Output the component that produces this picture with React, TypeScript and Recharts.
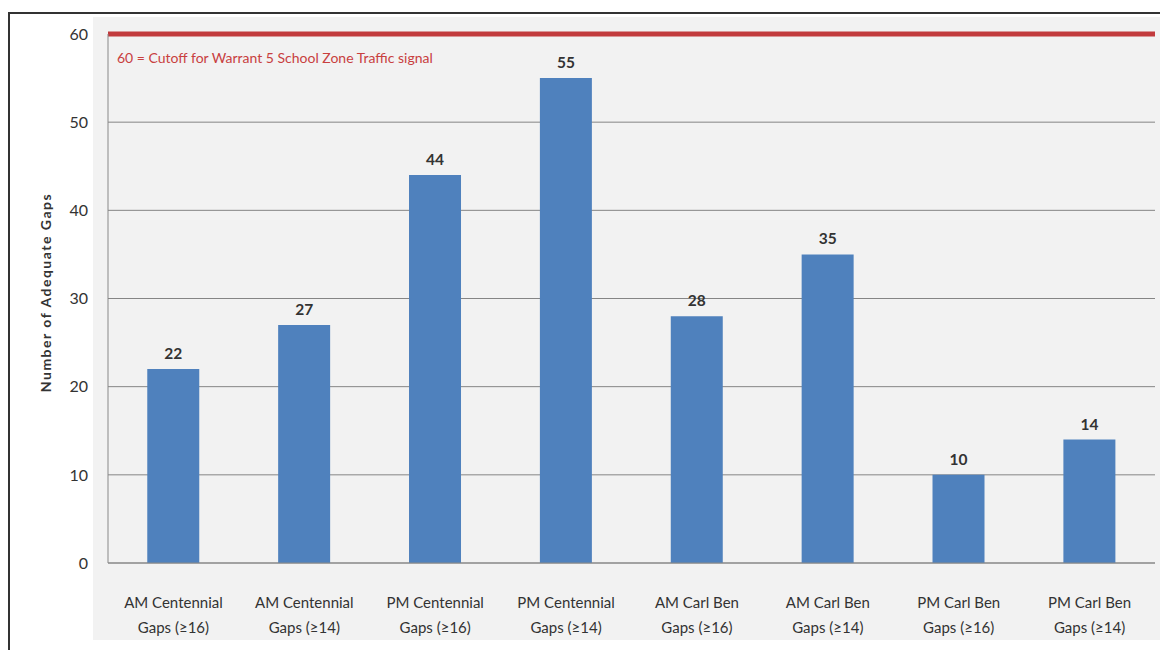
import { BarChart, Bar, XAxis, YAxis, CartesianGrid, ReferenceLine, LabelList, Label } from 'recharts';

const categories = [
  'AM Centennial|Gaps (≥16)',
  'AM Centennial|Gaps (≥14)',
  'PM Centennial|Gaps (≥16)',
  'PM Centennial|Gaps (≥14)',
  'AM Carl Ben|Gaps (≥16)',
  'AM Carl Ben|Gaps (≥14)',
  'PM Carl Ben|Gaps (≥16)',
  'PM Carl Ben|Gaps (≥14)',
];
const gapCounts = [22, 27, 44, 55, 28, 35, 10, 14];
const yTicks = [0, 10, 20, 30, 40, 50, 60];
const cutoffValue = 60;
const cutoffText = '60 = Cutoff for Warrant 5 School Zone Traffic signal';
const yTitle = 'Number of Adequate Gaps';

const data = categories.map((c, i) => ({ name: c, value: gapCounts[i] }));

const FONT = 'Lato, "Open Sans", sans-serif';

function CategoryTick(props: any) {
  const { x, y, payload } = props;
  const lines = String(payload.value).split('|');
  return (
    <g transform={`translate(${x},${y})`}>
      {lines.map((line, i) => (
        <text key={i} x={0} y={37 + i * 25} textAnchor="middle" fill="#333" fontSize={15} fontFamily={FONT}>
          {line}
        </text>
      ))}
    </g>
  );
}

export default function App() {
  return (
    <div
      style={{
        position: 'relative',
        marginTop: 4,
        width: 1150,
        height: 636,
        borderLeft: '2px solid #333',
        borderTop: '2px solid #333',
        background: '#fff',
      }}
    >
      {/* light grey chart area behind the plot */}
      <div style={{ position: 'absolute', left: 83, top: 3, width: 1067, height: 623, background: '#f2f2f2' }} />
      <div style={{ position: 'absolute', left: 0, top: 0 }}>
        <BarChart
          width={1150}
          height={636}
          data={data}
          margin={{ top: 20, right: 5, bottom: 57, left: 0 }}
          barCategoryGap="30%"
        >
          <CartesianGrid vertical={false} stroke="#858585" strokeWidth={1} />
          <XAxis
            dataKey="name"
            tick={<CategoryTick />}
            tickLine={false}
            axisLine={{ stroke: '#888' }}
            interval={0}
          />
          <YAxis
            domain={[0, 60]}
            ticks={yTicks}
            width={98}
            tickLine={false}
            axisLine={{ stroke: '#888' }}
            tick={{ fill: '#333', fontSize: 16, fontFamily: FONT }}
            tickMargin={14}
          >
            <Label
              content={(p: any) => {
                const vb = p.viewBox;
                const cx = 35;
                const cy = vb.y + vb.height / 2 - 6;
                return (
                  <text
                    x={cx}
                    y={cy}
                    transform={`rotate(-90, ${cx}, ${cy})`}
                    textAnchor="middle"
                    dominantBaseline="central"
                    fontSize={14}
                    fontWeight="bold"
                    letterSpacing={1.5}
                    fill="#333"
                    fontFamily={FONT}
                  >
                    {yTitle}
                  </text>
                );
              }}
            />
          </YAxis>
          <Bar dataKey="value" fill="#4f81bd" isAnimationActive={false}>
            <LabelList
              dataKey="value"
              position="top"
              offset={10}
              fill="#333"
              fontSize={15.5}
              fontWeight="bold"
              fontFamily={FONT}
            />
          </Bar>
          <ReferenceLine
            y={cutoffValue}
            stroke="#c23b3d"
            strokeWidth={5}
            label={(p: any) => {
              const vb = p.viewBox;
              return (
                <text
                  x={vb.x + 9}
                  y={vb.y + 23}
                  dominantBaseline="central"
                  fontSize={14}
                  fill="#c8403f"
                  fontFamily={FONT}
                >
                  {cutoffText}
                </text>
              );
            }}
          />
        </BarChart>
      </div>
    </div>
  );
}
